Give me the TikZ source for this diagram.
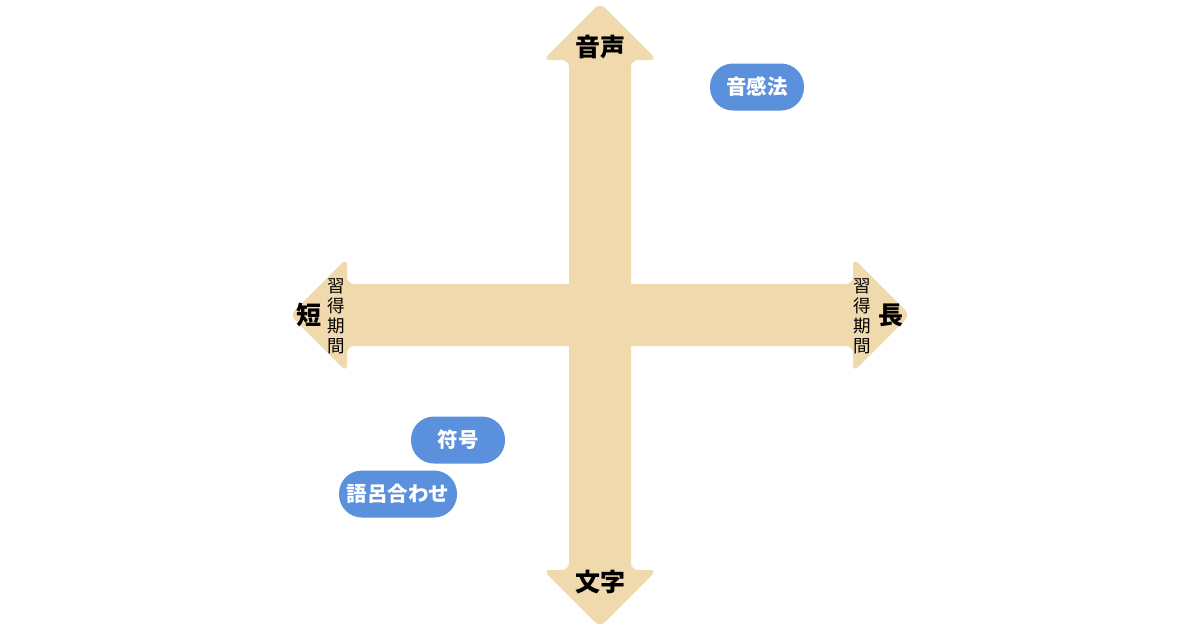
\documentclass[tikz,border=0pt]{standalone}
\usepackage{fontspec}
\newfontfamily\jp{Noto Sans CJK JP}
\usepackage{xcolor}
\usepackage{tikz}
\usetikzlibrary{positioning}
\definecolor{armtan}{HTML}{F0D9AC}
\definecolor{pillblue}{HTML}{5B90DC}

\begin{document}
\begin{tikzpicture}[x=1pt, y=-1pt,
        arm/.style={fill=armtan, rounded corners=7pt},
        axislabel/.style={font=\jp\bfseries\fontsize{25}{25}\selectfont, inner sep=0pt},
        periodlabel/.style={font=\jp\fontsize{17.5}{20}\selectfont, align=center, inner sep=0pt},
        method/.style={fill=pillblue, text=white, rounded corners=23pt, minimum height=47pt,
            font=\jp\bfseries\fontsize{20.5}{20.5}\selectfont}]
            \useasboundingbox (0,0) rectangle (1200,630);
            % axes
            \fill[arm] (600,3) -- (657,60) -- (631,60) -- (631,570) -- (657,570) -- (600,627)
                -- (543,570) -- (569,570) -- (569,60) -- (543,60) -- cycle;
            \fill[arm] (290,315) -- (347,258) -- (347,284) -- (853,284) -- (853,258) -- (910,315)
                -- (853,372) -- (853,346) -- (347,346) -- (347,372) -- cycle;
            % axis labels
            \node[axislabel] (voice) at (600,47) {音声};
            \node[axislabel] (letters) at (600,582) {文字};
            \node[axislabel] (short) at (309,315) {短};
            \node[periodlabel] (shortterm) at (336,316) {習\\得\\期\\間};
            \node[periodlabel] (longterm) at (862,316) {習\\得\\期\\間};
            \node[axislabel] (long) at (891,315) {長};
            % methods
            \node[method, minimum width=94pt] (onkan) at (757,87) {音感法};
            \node[method, minimum width=94pt] (fugo) at (458,440) {符号};
            \node[method, minimum width=118pt] (goro) at (398,494) {語呂合わせ};
        \end{tikzpicture}
\end{document}
